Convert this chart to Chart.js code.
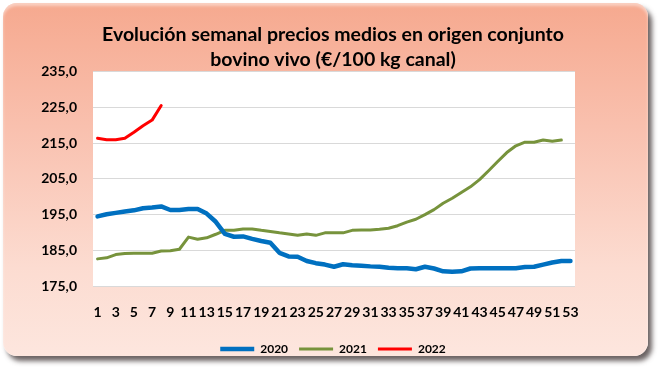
<!DOCTYPE html>
<html lang="es">
<head>
<meta charset="utf-8">
<title>Bovino vivo</title>
<script src="https://cdn.jsdelivr.net/npm/chart.js@4.4.1/dist/chart.umd.min.js"></script>
<style>
    html, body { margin: 0; padding: 0; background: #fff; }
    #contenedor { position: relative; width: 659px; height: 369px; }
    #marco
    {
        position: absolute; left: 3px; top: 3px; width: 645px; height: 353px;
        border-radius: 14px;
        background: linear-gradient(to bottom, #f6a98f 0%, #f9c0ae 35%, #fcdcd1 75%, #fde6de 100%);
        box-shadow: 4px 5px 5px rgba(70, 60, 60, 0.8), inset 0 3px 3px rgba(255, 255, 255, 0.45);
    }
    canvas { position: absolute; left: 0; top: 0; }
</style>
</head>
<body>
<div id="contenedor">
    <div id="marco"></div>
    <canvas id="graficoBovino" width="659" height="369"></canvas>
</div>
<script>
// Semanas del año
const semanas = ['1','2','3','4','5','6','7','8','9','10','11','12','13','14','15','16','17','18','19','20',
    '21','22','23','24','25','26','27','28','29','30','31','32','33','34','35','36','37','38','39','40',
    '41','42','43','44','45','46','47','48','49','50','51','52','53'];

// Precio medio (€/100 kg canal) por semana
const precios2020 = [194.5, 195.1, 195.5, 195.9, 196.2, 196.8, 197.0, 197.3, 196.3, 196.3,
    196.6, 196.6, 195.3, 193.0, 189.6, 188.8, 188.9, 188.2, 187.6, 187.1,
    184.3, 183.3, 183.2, 182.0, 181.4, 181.0, 180.4, 181.1, 180.8, 180.7,
    180.5, 180.4, 180.1, 180.0, 180.0, 179.7, 180.4, 179.9, 179.1, 179.0,
    179.1, 179.9, 180.0, 180.0, 180.0, 180.0, 180.0, 180.3, 180.4, 181.0,
    181.6, 182.0, 182.0];

const precios2021 = [182.6, 182.9, 183.8, 184.1, 184.2, 184.2, 184.2, 184.8, 184.9, 185.3,
    188.7, 188.1, 188.5, 189.5, 190.6, 190.6, 191.0, 191.0, 190.6, 190.3,
    189.9, 189.6, 189.2, 189.6, 189.2, 189.9, 189.9, 189.9, 190.6, 190.7,
    190.7, 190.9, 191.2, 191.9, 192.9, 193.7, 195.0, 196.4, 198.2, 199.6,
    201.2, 202.8, 204.8, 207.3, 209.9, 212.4, 214.3, 215.3, 215.3, 215.9,
    215.6, 215.9];

const precios2022 = [216.4, 216.0, 216.0, 216.4, 218.1, 219.9, 221.5, 225.6];

const titulo = ['Evolución semanal precios medios en origen conjunto', 'bovino vivo (€/100 kg canal)'];

Chart.defaults.font.family = 'Lato, "Open Sans", sans-serif';
Chart.defaults.font.weight = 'bold';
Chart.defaults.color = '#000';

// Fondo blanco solo en la zona de trazado
const fondoTrazado =
{
    id: 'fondoTrazado',
    beforeDraw: (chart) =>
    {
        const { ctx, chartArea } = chart;
        ctx.save();
        ctx.fillStyle = '#ffffff';
        ctx.fillRect(chartArea.left, chartArea.top, chartArea.right - chartArea.left, chartArea.bottom - chartArea.top);
        ctx.restore();
    }
};

const serie = (label, data, color, grosor) =>
({
    label: label,
    data: data,
    borderColor: color,
    backgroundColor: color,
    borderWidth: grosor,
    borderCapStyle: 'round',
    borderJoinStyle: 'round',
    pointRadius: 0,
    pointHoverRadius: 0,
    tension: 0,
    fill: false
});

new Chart(document.getElementById('graficoBovino'),
{
    type: 'line',
    data:
    {
        labels: semanas,
        datasets:
        [
            serie('2020', precios2020, '#0070c0', 4.5),
            serie('2021', precios2021, '#77933c', 3),
            serie('2022', precios2022, '#ff0000', 3)
        ]
    },
    options:
    {
        responsive: false,
        animation: false,
        layout: { padding: { left: 7, right: 0, top: 0, bottom: 4 } },
        plugins:
        {
            title:
            {
                display: true,
                text: titulo,
                font: { size: 19.5, weight: 'bold', lineHeight: 1.28 },
                padding: { top: 22, bottom: 0 },
                color: '#000'
            },
            legend:
            {
                position: 'bottom',
                labels:
                {
                    usePointStyle: true,
                    pointStyle: 'line',
                    pointStyleWidth: 34,
                    padding: 11,
                    font: { size: 12, weight: 'bold' },
                    color: '#000'
                }
            },
            tooltip: { enabled: false }
        },
        scales:
        {
            x:
            {
                offset: true,
                grid: { display: false },
                border: { display: false },
                ticks:
                {
                    autoSkip: false,
                    maxRotation: 0,
                    minRotation: 0,
                    padding: 10,
                    font: { size: 14, weight: 'bold' },
                    callback: function(value, index)
                    {
                        return index % 2 === 0 ? this.getLabelForValue(value) : '';
                    }
                },
                afterFit: (scale) => { scale.height = 46; }
            },
            y:
            {
                min: 175,
                max: 235,
                grid: { color: '#d9d9d9', lineWidth: 1, drawTicks: false },
                border: { display: false },
                ticks:
                {
                    stepSize: 10,
                    padding: 16,
                    font: { size: 14, weight: 'bold' },
                    callback: (valor) => valor.toFixed(1).replace('.', ',')
                },
                afterFit: (scale) => { scale.width = 86; }
            },
            derecha:
            {
                type: 'linear',
                position: 'right',
                grid: { display: false },
                border: { display: false },
                ticks: { display: false },
                afterFit: (scale) => { scale.width = 84; }
            }
        }
    },
    plugins: [fondoTrazado]
});
</script>
</body>
</html>
